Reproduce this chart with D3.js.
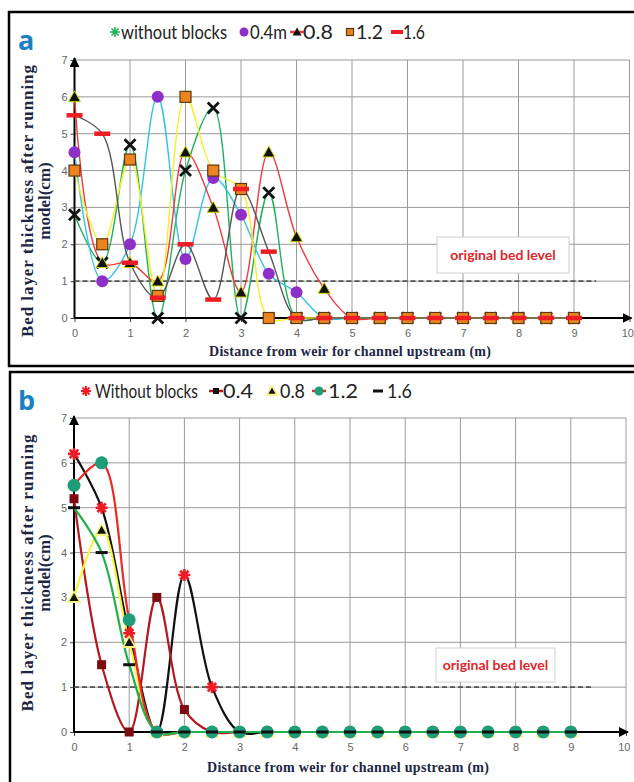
<!DOCTYPE html>
<html lang="en">
<head>
<meta charset="UTF-8">
<title>Bed layer thickness</title>
<style>
  body { margin: 0; background: #fff; }
  svg { display: block; }
</style>
</head>
<body>
<div id="chart"></div>
<script src="https://d3js.org/d3.v7.min.js"></script>
<script>
// distances from weir (m)
const distance = [0, 0.5, 1, 1.5, 2, 2.5, 3, 3.5, 4, 4.5, 5, 5.5, 6, 6.5, 7, 7.5, 8, 8.5, 9];
const xTicks = [0, 1, 2, 3, 4, 5, 6, 7, 8, 9, 10];
const yTicks = [0, 1, 2, 3, 4, 5, 6, 7];

// panel a values (cm)
const aWithout = [2.8, 1.5, 4.7, 0, 4.0, 5.7, 0, 3.4, 0, 0, 0, 0, 0, 0, 0, 0, 0, 0, 0];
const a04 = [4.5, 1.0, 2.0, 6.0, 1.6, 3.8, 2.8, 1.2, 0.7, 0, 0, 0, 0, 0, 0, 0, 0, 0, 0];
const a08 = [6.0, 1.5, 1.5, 1.0, 4.5, 3.0, 0.7, 4.5, 2.2, 0.8, 0, 0, 0, 0, 0, 0, 0, 0, 0];
const a12 = [4.0, 2.0, 4.3, 0.6, 6.0, 4.0, 3.5, 0, 0, 0, 0, 0, 0, 0, 0, 0, 0, 0, 0];
const a16 = [5.5, 5.0, 1.5, 0.55, 2.0, 0.5, 3.5, 1.8, 0, 0, 0, 0, 0, 0, 0, 0, 0, 0, 0];

// panel b values (cm)
const bWithout = [6.2, 5.0, 2.2, 0, 3.5, 1.0, 0, 0, 0, 0, 0, 0, 0, 0, 0, 0, 0, 0, 0];
const b04 = [5.2, 1.5, 0, 3.0, 0.5, 0, 0, 0, 0, 0, 0, 0, 0, 0, 0, 0, 0, 0, 0];
const b08 = [3.0, 4.5, 2.0, 0, 0, 0, 0, 0, 0, 0, 0, 0, 0, 0, 0, 0, 0, 0, 0];
const b12 = [5.5, 6.0, 2.5, 0, 0, 0, 0, 0, 0, 0, 0, 0, 0, 0, 0, 0, 0, 0, 0];
const b16 = [5.0, 4.0, 1.5, 0, 0, 0, 0, 0, 0, 0, 0, 0, 0, 0, 0, 0, 0, 0, 0];

const originalBed = 1;

const W = 634, H = 782;
const svg = d3.select("#chart").append("svg")
    .attr("width", W).attr("height", H);

const defs = svg.append("defs");
defs.append("marker")
    .attr("id", "arrow")
    .attr("viewBox", "0 0 10 10")
    .attr("refX", 9).attr("refY", 5)
    .attr("markerWidth", 5).attr("markerHeight", 5)
    .attr("orient", "auto")
  .append("path")
    .attr("d", "M0,0 L10,5 L0,10 z")
    .attr("fill", "#000");

function drawMarker(g, type, cx, cy, s) {
    if (type === "x") {
        const r = 5.5;
        g.append("path")
            .attr("d", `M${cx-r},${cy-r}L${cx+r},${cy+r}M${cx-r},${cy+r}L${cx+r},${cy-r}`)
            .attr("stroke", s.color || "#111").attr("stroke-width", 2.8);
    } else if (type === "star") {
        const r = s.r || 6;
        let d = "";
        [0, 45, 90, 135].forEach(a => {
            const t = a * Math.PI / 180;
            d += `M${cx - r*Math.cos(t)},${cy - r*Math.sin(t)}L${cx + r*Math.cos(t)},${cy + r*Math.sin(t)}`;
        });
        g.append("path").attr("d", d)
            .attr("stroke", s.color).attr("stroke-width", s.sw || 2.6);
    } else if (type === "circle") {
        g.append("circle").attr("cx", cx).attr("cy", cy).attr("r", s.r || 6)
            .attr("fill", s.color).attr("stroke", s.stroke || "none").attr("stroke-width", 1);
    } else if (type === "triangle") {
        const r = s.r || 7;
        if (s.halo) {
            g.append("path")
                .attr("d", `M${cx},${cy-r-3}L${cx+r+3},${cy+r*0.8+2}L${cx-r-3},${cy+r*0.8+2}Z`)
                .attr("fill", s.halo);
        }
        g.append("path")
            .attr("d", `M${cx},${cy-r}L${cx+r},${cy+r*0.8}L${cx-r},${cy+r*0.8}Z`)
            .attr("fill", s.color).attr("stroke", s.stroke || "none").attr("stroke-width", 1);
    } else if (type === "square") {
        const r = s.r || 5;
        g.append("rect").attr("x", cx - r).attr("y", cy - r)
            .attr("width", 2*r).attr("height", 2*r)
            .attr("fill", s.color).attr("stroke", s.stroke || "none").attr("stroke-width", 1.2);
    } else if (type === "dash") {
        const w = s.w || 16, h = s.h || 4;
        g.append("rect").attr("x", cx - w/2).attr("y", cy - h/2)
            .attr("width", w).attr("height", h).attr("fill", s.color);
    }
}

function drawPanel(p) {
    const g = svg.append("g");

    // frame
    g.append("rect")
        .attr("x", p.frame[0]).attr("y", p.frame[1])
        .attr("width", p.frame[2]).attr("height", p.frame[3])
        .attr("fill", "#fff").attr("stroke", "#000").attr("stroke-width", 2.5);

    const x = d3.scaleLinear().domain([0, 10]).range([p.left, p.right]);
    const y = d3.scaleLinear().domain([0, 7]).range([p.bottom, p.top]);

    // grid
    g.append("g").selectAll("line").data(xTicks.slice(1)).join("line")
        .attr("x1", d => x(d)).attr("x2", d => x(d))
        .attr("y1", y(0)).attr("y2", y(7))
        .attr("stroke", "#9a9a9a").attr("stroke-width", 1);
    g.append("g").selectAll("line").data(yTicks.slice(1)).join("line")
        .attr("x1", x(0)).attr("x2", x(10))
        .attr("y1", d => y(d)).attr("y2", d => y(d))
        .attr("stroke", "#9a9a9a").attr("stroke-width", 1);

    // axes
    const xAxis = g.append("g").attr("transform", `translate(0,${y(0)})`)
        .call(d3.axisBottom(x).tickValues(xTicks).tickSize(4).tickFormat(d3.format("d")));
    const yAxis = g.append("g").attr("transform", `translate(${x(0)},0)`)
        .call(d3.axisLeft(y).tickValues(yTicks).tickSize(4).tickFormat(d3.format("d")));
    [xAxis, yAxis].forEach(ax => {
        ax.select(".domain").remove();
        ax.selectAll("line").attr("stroke", "#444");
        ax.selectAll("text").attr("fill", "#666")
            .style("font-family", "'Liberation Sans', Arial, sans-serif")
            .style("font-size", "11px");
    });
    xAxis.selectAll("text").attr("dy", "1.1em");
    // last label sits at the page edge; keep it inside
    xAxis.selectAll("text").filter(d => d === 10)
        .attr("text-anchor", "end").attr("x", 4);

    g.append("line").attr("x1", x(0)).attr("x2", x(10) + 2)
        .attr("y1", y(0)).attr("y2", y(0))
        .attr("stroke", "#000").attr("stroke-width", 2)
        .attr("marker-end", "url(#arrow)");
    g.append("line").attr("x1", x(0)).attr("x2", x(0))
        .attr("y1", y(0)).attr("y2", y(7) - 2)
        .attr("stroke", "#000").attr("stroke-width", 2)
        .attr("marker-end", "url(#arrow)");

    // original bed level
    g.append("line")
        .attr("x1", x(0)).attr("x2", x(9.4))
        .attr("y1", y(originalBed)).attr("y2", y(originalBed))
        .attr("stroke", "#555").attr("stroke-width", 1.6)
        .attr("stroke-dasharray", "5,3");
    g.append("rect")
        .attr("x", p.box[0]).attr("y", p.box[1])
        .attr("width", p.box[2]).attr("height", p.box[3])
        .attr("fill", "#fff").attr("stroke", "#cfcfcf");
    g.append("text")
        .attr("x", p.box[0] + p.box[2] / 2).attr("y", p.box[1] + p.box[3] / 2 + 5)
        .attr("text-anchor", "middle")
        .attr("fill", "#e0262b")
        .style("font-family", "Lato, 'Open Sans', sans-serif")
        .style("font-weight", "bold").style("font-size", "14px")
        .text("original  bed level");

    // series lines
    const line = d3.line()
        .x((d, i) => x(distance[i]))
        .y(d => y(d))
        .curve(d3.curveCatmullRom.alpha(0.5));
    p.series.forEach(s => {
        g.append("path").datum(s.values)
            .attr("d", line)
            .attr("fill", "none")
            .attr("stroke", s.line)
            .attr("stroke-width", p.lineWidth);
    });
    // markers
    p.series.forEach(s => {
        const mg = g.append("g");
        s.values.forEach((v, i) => drawMarker(mg, s.marker, x(distance[i]), y(v), s.style));
    });

    // axis titles
    const titleFont = "'Liberation Serif', 'Times New Roman', serif";
    const ty = g.append("text")
        .attr("transform", `translate(${p.yTitleX},${p.yTitleMid}) rotate(-90)`)
        .attr("text-anchor", "middle")
        .attr("fill", "#1c2645")
        .style("font-family", titleFont).style("font-weight", "bold").style("font-size", "17px");
    ty.append("tspan").attr("x", 0).attr("y", 0)
        .attr("textLength", p.yTitleLen).attr("lengthAdjust", "spacing")
        .text("Bed layer  thickness  after  running");
    ty.append("tspan").attr("x", 0).attr("y", 17).text("model(cm)");

    g.append("text")
        .attr("x", x(0) + (x(10) - x(0)) * 0.5 - 2).attr("y", p.xTitleY)
        .attr("text-anchor", "middle")
        .attr("fill", "#1c2645")
        .style("font-family", titleFont).style("font-weight", "bold").style("font-size", "14px")
        .attr("textLength", 282).attr("lengthAdjust", "spacing")
        .text("Distance from weir for channel upstream  (m)");

    // panel letter
    g.append("text").attr("x", 18).attr("y", p.letterY)
        .attr("fill", "#1b7fc4")
        .style("font-family", "'Open Sans', sans-serif")
        .style("font-weight", "bold").style("font-size", "27px")
        .text(p.letter);

    // legend
    const lg = g.append("g");
    p.legend.forEach(item => {
        if (item.line) {
            lg.append("line").attr("x1", item.mx - 7).attr("x2", item.mx + 7)
                .attr("y1", p.legendY).attr("y2", p.legendY)
                .attr("stroke", item.line).attr("stroke-width", 2.5);
        }
        drawMarker(lg, item.marker, item.mx, p.legendY, item.style);
        lg.append("text").attr("x", item.tx).attr("y", p.legendY + 7)
            .attr("fill", "#222")
            .style("font-family", "Lato, 'Open Sans', sans-serif")
            .style("font-size", "19px")
            .attr("textLength", item.len).attr("lengthAdjust", "spacingAndGlyphs")
            .text(item.label);
    });
}

drawPanel({
    letter: "a", letterY: 50,
    frame: [9, 12, 640, 354],
    left: 74.5, right: 629.5, top: 60, bottom: 318,
    box: [437, 237, 132, 36],
    lineWidth: 1.4,
    yTitleX: 33, yTitleMid: 201, yTitleLen: 272,
    xTitleY: 356,
    legendY: 32,
    series: [
        { values: aWithout, line: "#1fb15a", marker: "x", style: { color: "#111" } },
        { values: a04, line: "#33c3e6", marker: "circle", style: { color: "#8e2fc8", r: 6 } },
        { values: a08, line: "#ef3b3b", marker: "triangle", style: { color: "#111", stroke: "#c8d400", r: 6 } },
        { values: a12, line: "#f4ef2a", marker: "square", style: { color: "#ee8420", stroke: "#5a3a10", r: 5.5 } },
        { values: a16, line: "#555555", marker: "dash", style: { color: "#ee1c24", w: 16, h: 4.5 } }
    ],
    legend: [
        { mx: 115, tx: 121, len: 106, label: "without blocks", marker: "star", style: { color: "#1fb15a", r: 5, sw: 1.6 } },
        { mx: 244, tx: 250, len: 37, label: "0.4m", marker: "circle", style: { color: "#8e2fc8", r: 4.5 } },
        { mx: 297, tx: 303, len: 30, label: "0.8", marker: "triangle", line: "#ef3b3b", style: { color: "#111", r: 4.5 } },
        { mx: 350, tx: 356, len: 27, label: "1.2", marker: "square", style: { color: "#ee8420", stroke: "#5a3a10", r: 3.5 } },
        { mx: 397, tx: 403, len: 22, label: "1.6", marker: "dash", style: { color: "#ee1c24", w: 12, h: 4 } }
    ]
});

drawPanel({
    letter: "b", letterY: 410,
    frame: [10, 372, 640, 420],
    left: 74, right: 626, top: 418, bottom: 732,
    box: [436, 648, 119, 34],
    lineWidth: 2.2,
    yTitleX: 33, yTitleMid: 573, yTitleLen: 277,
    xTitleY: 772,
    legendY: 391,
    series: [
        { values: bWithout, line: "#111111", marker: "star", style: { color: "#ee1c24" } },
        { values: b04, line: "#b3191f", marker: "square", style: { color: "#7a0c12", r: 4.5 } },
        { values: b08, line: "#f5f53a", marker: "triangle", style: { color: "#111", r: 4.5, halo: "#f7f27a" } },
        { values: b12, line: "#ee2a24", marker: "circle", style: { color: "#1e9e78", r: 6.5 } },
        { values: b16, line: "#22b04a", marker: "dash", style: { color: "#111", w: 12, h: 3 } }
    ],
    legend: [
        { mx: 86, tx: 95, len: 103, label: "Without blocks", marker: "star", style: { color: "#ee1c24", r: 5, sw: 2 } },
        { mx: 216, tx: 223, len: 30, label: "0.4", marker: "square", line: "#b3191f", style: { color: "#111", r: 3 } },
        { mx: 272, tx: 280, len: 25, label: "0.8", marker: "triangle", style: { color: "#111", r: 3.5, halo: "#f7f27a" } },
        { mx: 319, tx: 328, len: 30, label: "1.2", marker: "circle", line: "#ee2a24", style: { color: "#1e9e78", r: 4.5 } },
        { mx: 378, tx: 387, len: 25, label: "1.6", marker: "dash", style: { color: "#111", w: 10, h: 3 } }
    ]
});
</script>
</body>
</html>
